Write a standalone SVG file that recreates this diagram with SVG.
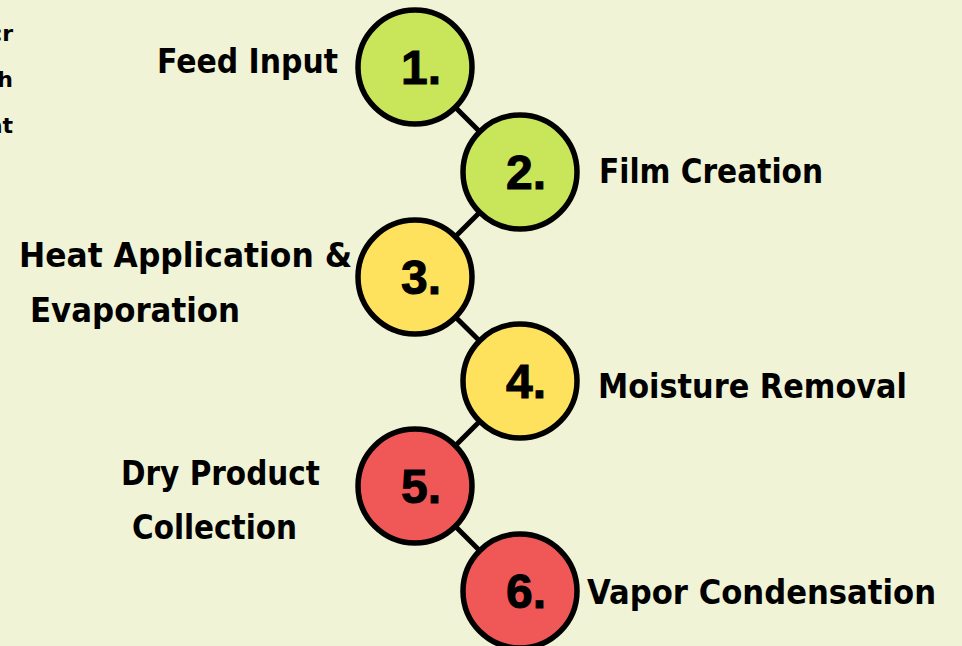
<svg xmlns="http://www.w3.org/2000/svg" width="962" height="646" viewBox="0 0 962 646">
<style>
.bg{fill:#F0F3D6}
.node{stroke:#000;stroke-width:5.5}
.g{fill:#C9E65A}
.y{fill:#FEE25E}
.r{fill:#F05858}
.num{font-family:"Liberation Sans",Arial,sans-serif;font-weight:bold;font-size:48px;fill:#000;text-anchor:middle;stroke:#000;stroke-width:1}
.lbl{font-family:"DejaVu Sans","Liberation Sans",sans-serif;font-weight:bold;font-size:33px;fill:#000}
.frag{font-family:"DejaVu Sans","Liberation Sans",sans-serif;font-weight:bold;font-size:22px;fill:#000;text-anchor:end}
.conn{stroke:#000;stroke-width:5;fill:none}
</style>
<rect class="bg" x="0" y="0" width="962" height="646"/>
<g id="fragments">
<text class="frag" x="13" y="41">cr</text>
<text class="frag" x="13" y="87">th</text>
<text class="frag" x="13" y="133">at</text>
</g>
<g id="connectors">
<line class="conn" x1="415" y1="67" x2="520" y2="172"/>
<line class="conn" x1="520" y1="172" x2="415" y2="277"/>
<line class="conn" x1="415" y1="277" x2="520" y2="381"/>
<line class="conn" x1="520" y1="381" x2="415" y2="486"/>
<line class="conn" x1="415" y1="486" x2="520" y2="591"/>
</g>
<g id="node1">
<circle class="node g" cx="415" cy="67" r="57"/>
<text class="num" x="421" y="84">1.</text>
<text class="lbl" x="157" y="73" textLength="181" lengthAdjust="spacingAndGlyphs">Feed Input</text>
</g>
<g id="node2">
<circle class="node g" cx="520" cy="172" r="57"/>
<text class="num" x="526" y="189">2.</text>
<text class="lbl" x="599" y="183" textLength="224" lengthAdjust="spacingAndGlyphs">Film Creation</text>
</g>
<g id="node3">
<circle class="node y" cx="415" cy="277" r="57"/>
<text class="num" x="421" y="294">3.</text>
<text class="lbl" x="19" y="267" textLength="333" lengthAdjust="spacingAndGlyphs">Heat Application &amp;</text>
<text class="lbl" x="30" y="322" textLength="210" lengthAdjust="spacingAndGlyphs">Evaporation</text>
</g>
<g id="node4">
<circle class="node y" cx="520" cy="381" r="57"/>
<text class="num" x="526" y="398">4.</text>
<text class="lbl" x="598" y="398" textLength="309" lengthAdjust="spacingAndGlyphs">Moisture Removal</text>
</g>
<g id="node5">
<circle class="node r" cx="415" cy="486" r="57"/>
<text class="num" x="421" y="503">5.</text>
<text class="lbl" x="121" y="485" textLength="199" lengthAdjust="spacingAndGlyphs">Dry Product</text>
<text class="lbl" x="132" y="539" textLength="165" lengthAdjust="spacingAndGlyphs">Collection</text>
</g>
<g id="node6">
<circle class="node r" cx="520" cy="591" r="57"/>
<text class="num" x="526" y="608">6.</text>
<text class="lbl" x="587" y="604" textLength="349" lengthAdjust="spacingAndGlyphs">Vapor Condensation</text>
</g>
</svg>
